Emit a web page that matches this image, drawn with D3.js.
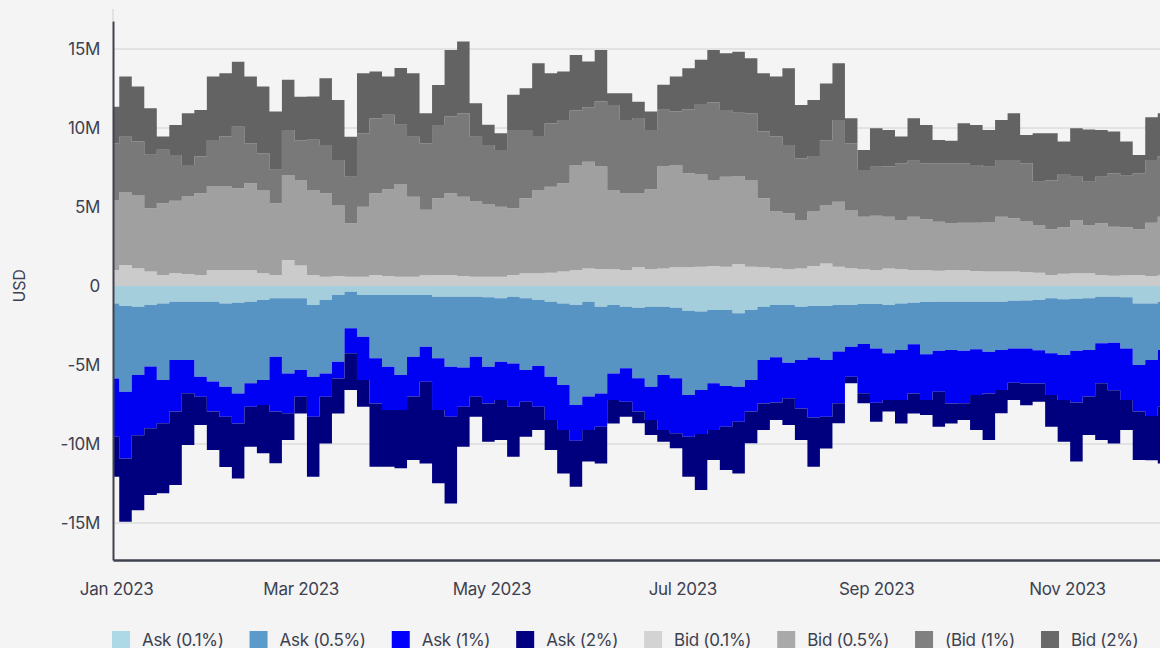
<!DOCTYPE html>
<html>
<head>
<meta charset="utf-8">
<script src="https://cdn.jsdelivr.net/npm/d3@7"></script>
<style>
  html, body { margin: 0; padding: 0; background: #f4f4f4; overflow: hidden; }
  text { font-family: Inter, "Noto Sans", sans-serif; fill: #3d4150; letter-spacing: -0.3px; }
</style>
</head>
<body>
<script>
// Order book depth in USD millions, one reading every 4 days from 31 Dec 2022
var startDate = new Date(Date.UTC(2022, 11, 31));
var stepDays = 4;

var bid01 = [1.01,1.33,1.12,0.91,0.70,0.80,0.76,0.70,1.01,1.01,1.01,1.01,0.80,0.70,1.65,1.30,0.70,0.59,0.63,0.59,0.59,0.70,0.63,0.59,0.59,0.68,0.70,0.70,0.63,0.59,0.59,0.59,0.70,0.80,0.80,0.84,0.91,1.01,1.10,1.08,1.06,1.01,1.18,1.06,1.10,1.18,1.18,1.22,1.27,1.22,1.39,1.22,1.18,1.12,1.06,1.10,1.27,1.43,1.22,1.12,1.06,1.01,1.10,1.06,1.01,0.99,0.97,1.01,0.99,0.95,0.91,0.91,0.91,0.89,0.84,0.70,0.78,0.80,0.80,0.70,0.65,0.68,0.70,0.63,0.70];
var bid05 = [4.43,4.58,4.64,4.01,4.54,4.60,4.90,5.17,5.28,5.28,5.17,5.49,5.28,4.54,5.38,5.40,5.38,5.28,4.49,3.38,4.43,5.17,5.49,5.87,5.06,4.14,4.85,5.17,5.02,4.75,4.60,4.43,4.22,4.75,5.28,5.44,5.59,6.65,6.77,6.48,4.98,4.85,4.68,5.06,6.46,6.48,5.95,5.87,5.44,5.70,5.57,5.49,4.37,3.59,3.54,3.08,3.44,3.69,4.11,3.69,3.33,3.44,3.29,3.12,3.38,3.23,3.10,2.95,3.02,3.06,3.14,3.48,3.38,3.19,3.02,2.89,2.93,3.38,3.06,3.27,3.10,3.04,2.89,3.38,3.69];
var bid1 = [3.59,3.54,3.38,3.38,3.38,2.89,2.00,2.32,2.95,3.17,3.90,2.53,2.32,2.11,2.85,2.53,3.17,3.06,2.85,2.95,4.64,4.75,4.71,3.74,3.80,4.22,4.64,4.85,5.28,4.11,3.74,3.59,4.96,4.33,3.42,4.01,4.01,3.44,3.44,4.11,5.42,4.64,4.77,3.76,3.59,3.38,4.05,4.43,4.90,4.22,4.01,4.22,4.22,4.75,4.33,3.90,3.52,4.11,5.17,4.22,2.95,3.10,3.17,3.59,3.54,3.54,3.69,3.80,3.76,3.65,3.50,3.59,3.69,3.69,2.74,3.08,3.38,2.74,2.74,2.95,3.38,3.25,3.54,3.97,3.80];
var bid2 = [2.32,3.80,3.48,2.95,0.84,1.90,3.27,2.95,4.01,4.01,4.11,4.22,4.22,3.69,3.17,2.74,2.74,4.22,3.80,2.53,3.80,2.95,2.43,3.59,4.01,1.90,2.53,4.22,4.54,2.11,1.27,1.06,2.22,2.64,4.60,3.17,3.06,3.52,2.89,3.27,0.74,1.69,1.03,1.16,1.58,2.22,2.60,2.79,3.33,3.59,3.86,3.48,3.69,3.80,4.85,3.38,3.54,3.59,3.59,1.58,1.27,2.43,2.32,1.69,2.68,2.43,1.48,1.43,2.53,2.53,2.32,2.53,2.95,1.79,3.06,3.00,2.05,3.06,3.31,2.95,2.64,2.17,1.16,2.70,2.74];

var ask01 = [1.10,1.27,1.31,1.20,1.10,0.99,0.99,0.99,0.99,1.10,1.06,0.99,0.89,0.78,0.78,0.78,1.20,0.89,0.57,0.36,0.57,0.57,0.57,0.57,0.57,0.57,0.68,0.68,0.68,0.68,0.72,0.78,0.68,0.78,0.89,0.99,1.10,1.20,0.99,1.31,1.20,1.31,1.37,1.31,1.31,1.37,1.56,1.62,1.52,1.52,1.73,1.52,1.31,1.20,1.20,1.31,1.27,1.27,1.20,1.20,1.14,1.14,1.20,1.10,1.06,1.01,0.99,0.99,0.99,0.99,0.99,0.99,0.93,0.91,0.89,0.78,0.84,0.80,0.78,0.68,0.68,0.72,1.10,1.10,0.99];
var ask05 = [4.75,5.42,4.33,3.90,4.85,3.69,3.69,4.75,5.06,5.28,5.74,5.17,5.06,3.69,4.75,4.54,4.54,4.64,4.22,2.32,2.64,4.01,4.54,5.06,3.90,3.27,3.90,4.43,4.47,3.80,4.39,4.01,4.22,4.54,4.18,4.75,5.17,6.33,6.01,5.49,4.33,3.90,4.47,5.06,4.33,4.47,5.34,4.96,4.64,4.81,4.64,4.43,3.38,3.31,3.65,3.38,3.25,3.42,2.95,2.64,2.53,2.81,3.06,2.95,2.62,3.31,3.10,3.06,3.10,3.02,3.17,3.06,3.02,3.04,3.17,3.48,3.52,3.29,3.27,2.95,2.91,3.23,3.90,3.59,3.06];
var ask1 = [3.69,4.22,3.80,3.90,2.74,3.27,2.11,1.27,1.90,1.90,1.90,1.48,1.58,3.48,2.53,1.69,2.53,1.48,1.06,1.58,2.74,2.85,2.74,2.22,2.53,2.22,3.27,3.17,2.49,2.53,2.32,2.43,2.74,2.00,2.57,2.74,2.85,2.26,2.11,2.11,1.69,2.11,2.11,2.11,3.48,3.48,2.64,2.79,2.95,2.57,2.22,2.00,2.74,2.87,2.26,3.06,3.80,3.59,3.27,1.90,3.12,3.44,2.95,3.17,3.12,2.89,2.60,3.38,3.33,2.89,2.64,2.53,2.17,2.22,2.11,2.64,2.85,3.29,2.95,2.53,3.00,3.27,2.95,3.54,3.59];
var ask2 = [2.53,4.01,4.75,4.22,4.43,4.64,3.27,1.79,2.43,3.17,3.48,2.53,3.06,3.27,1.69,1.06,3.80,2.95,2.22,2.32,1.69,4.01,3.59,3.69,4.01,5.17,4.64,5.49,2.53,1.27,2.43,2.53,3.17,2.22,1.48,1.90,2.74,2.91,2.00,2.32,1.48,0.95,0.74,0.95,0.74,0.95,2.53,3.54,1.90,2.74,3.27,2.00,1.69,1.10,1.69,2.00,3.12,2.00,1.27,0.42,0.63,1.20,0.74,1.48,1.27,0.95,2.22,1.27,1.06,2.22,2.95,1.48,1.10,1.37,1.16,2.00,2.64,3.73,2.43,3.59,3.38,1.90,3.06,2.79,3.59];

var yTicks = [-15, -10, -5, 0, 5, 10, 15];

// series names (as in legend) and colours: area fill / legend swatch
var keys = ["Ask (0.1%)", "Ask (0.5%)", "Ask (1%)", "Ask (2%)", "Bid (0.1%)", "Bid (0.5%)", "Bid (1%)", "Bid (2%)"];
var legendNames = ["Ask (0.1%)", "Ask (0.5%)", "Ask (1%)", "Ask (2%)", "Bid (0.1%)", "Bid (0.5%)", "(Bid (1%)", "Bid (2%)"];
var areaColors = ["#a4cedc", "#5794c3", "#0000f2", "#00007f", "#cbcbcb", "#a0a0a0", "#797979", "#636363"];
var swatchColors = ["#add8e6", "#5b9bcb", "#0000ff", "#000080", "#d3d3d3", "#a9a9a9", "#808080", "#696969"];

var svgWidth = 1160;
var svgHeight = 648;

var margin = { top: 21, left: 113, bottom: 560 };
var pxPerDay = 3.128;

var svg = d3.select("body")
  .append("svg")
  .attr("width", svgWidth)
  .attr("height", svgHeight);

// rows for the stack, asks go negative
var rows = bid01.map(function(v, i) {
  var row = { date: d3.utcDay.offset(startDate, i * stepDays) };
  row["Ask (0.1%)"] = -ask01[i];
  row["Ask (0.5%)"] = -ask05[i];
  row["Ask (1%)"] = -ask1[i];
  row["Ask (2%)"] = -ask2[i];
  row["Bid (0.1%)"] = bid01[i];
  row["Bid (0.5%)"] = bid05[i];
  row["Bid (1%)"] = bid1[i];
  row["Bid (2%)"] = bid2[i];
  return row;
});

var stacked = d3.stack()
  .keys(keys)
  .offset(d3.stackOffsetDiverging)(rows);

// scales
var endDate = d3.utcDay.offset(startDate, 365);
var xScale = d3.scaleUtc()
  .domain([startDate, endDate])
  .range([margin.left, margin.left + 365 * pxPerDay]);

var yScale = d3.scaleLinear()
  .domain([-17.34, 16.77])
  .range([margin.bottom, margin.top]);

// gridlines
svg.append("g")
  .selectAll("line")
  .data(yTicks)
  .enter()
  .append("line")
  .attr("x1", margin.left)
  .attr("x2", svgWidth)
  .attr("y1", d => yScale(d))
  .attr("y2", d => yScale(d))
  .attr("stroke", "#dddddd")
  .attr("stroke-width", 1.5);

// stacked step areas
var area = d3.area()
  .curve(d3.curveStep)
  .x(d => xScale(d.data.date))
  .y0(d => yScale(d[0]))
  .y1(d => yScale(d[1]));

svg.append("g")
  .selectAll("path")
  .data(stacked)
  .enter()
  .append("path")
  .attr("d", area)
  .attr("fill", (d, i) => areaColors[i]);

// x axis
var xAxis = svg.append("g")
  .attr("transform", `translate(0, ${margin.bottom})`)
  .call(d3.axisBottom(xScale)
    .ticks(d3.utcMonth.every(2))
    .tickFormat(d3.utcFormat("%b %Y"))
    .tickSize(0)
    .tickSizeOuter(0));

xAxis.select(".domain")
  .attr("stroke", "#40434f")
  .attr("stroke-width", 2.5);

xAxis.selectAll("text")
  .attr("y", 35)
  .attr("dy", null)
  .style("font-size", "17px")
  .style("fill", "#3d4150");

// y axis
var yAxis = svg.append("g")
  .attr("transform", `translate(${margin.left}, 0)`)
  .call(d3.axisLeft(yScale)
    .tickValues(yTicks)
    .tickFormat(d => d === 0 ? "0" : d + "M")
    .tickSize(0)
    .tickSizeOuter(0));

yAxis.select(".domain")
  .attr("stroke", "#40434f")
  .attr("stroke-width", 2);

yAxis.selectAll("text")
  .attr("x", -13)
  .style("font-size", "17px")
  .style("fill", "#3d4150");

// faint stub above the axis
svg.append("line")
  .attr("x1", margin.left)
  .attr("x2", margin.left)
  .attr("y1", 9)
  .attr("y2", margin.top)
  .attr("stroke", "#dddddd")
  .attr("stroke-width", 1.5);

// y axis title
svg.append("text")
  .attr("transform", "translate(25, 286) rotate(-90)")
  .attr("text-anchor", "middle")
  .style("font-size", "16px")
  .text("USD");

// legend
var legend = svg.append("g")
  .attr("transform", "translate(112, 631)");

var legendX = 0;
legendNames.forEach(function(name, i) {
  var item = legend.append("g")
    .attr("transform", `translate(${legendX}, 0)`);

  item.append("rect")
    .attr("width", 18)
    .attr("height", 18)
    .attr("fill", swatchColors[i]);

  var label = item.append("text")
    .attr("x", 30)
    .attr("y", 14.5)
    .style("font-size", "17px")
    .text(name);

  legendX += 30 + label.node().getComputedTextLength() + 26;
});
</script>
</body>
</html>
